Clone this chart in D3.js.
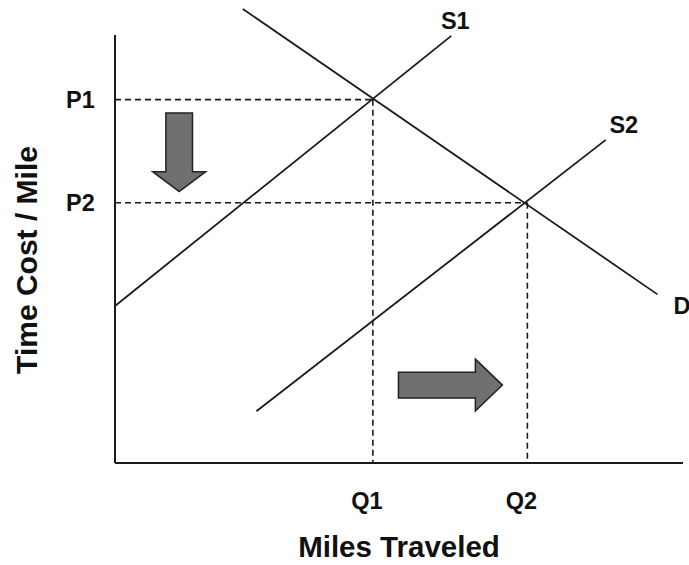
<!DOCTYPE html>
<html>
<head>
<meta charset="utf-8">
<script src="https://cdn.jsdelivr.net/npm/d3@7"></script>
<style>
  html, body { margin: 0; padding: 0; background: #fff; }
  svg { display: block; }
  text { font-family: "Liberation Sans", Arial, sans-serif; font-weight: bold; fill: #111; }
</style>
</head>
<body>
<svg id="chart" width="689" height="565"></svg>
<script>
// Curves (chart units, 0..100 on both axes)
const curveNames = ["S1", "D", "S2"];
const curveX1 = [0, 22.5, 24.9];
const curveY1 = [36.7, 106.1, 12.1];
const curveX2 = [59.2, 95.5, 86.4];
const curveY2 = [99.8, 39.4, 75.5];

// Equilibrium levels
const priceLabels = ["P1", "P2"];
const priceValues = [84.9, 60.8];
const qtyLabels = ["Q1", "Q2"];
const qtyValues = [45.4, 72.6];

// Shift arrows (start and tip in chart units)
const arrowNames = ["down", "right"];
const arrowFromX = [11.3, 49.9];
const arrowFromY = [81.8, 18.2];
const arrowToX = [11.3, 68.2];
const arrowToY = [63.4, 18.2];

const xTitle = "Miles Traveled";
const yTitle = "Time Cost / Mile";

const svg = d3.select("#chart");
const x = d3.scaleLinear().domain([0, 100]).range([115, 683]);
const y = d3.scaleLinear().domain([0, 100]).range([463, 35]);
const ink = "#1a1a1a";
const labelSize = 23.5;

// Axes
svg.append("line").attr("x1", x(0)).attr("x2", x(0)).attr("y1", y(100)).attr("y2", y(0))
  .attr("stroke", ink).attr("stroke-width", 2);
svg.append("line").attr("x1", x(0)).attr("x2", x(100)).attr("y1", y(0)).attr("y2", y(0))
  .attr("stroke", ink).attr("stroke-width", 2);

// Dashed guides
priceValues.forEach((p, i) => {
  svg.append("line").attr("x1", x(0)).attr("x2", x(qtyValues[i])).attr("y1", y(p)).attr("y2", y(p))
    .attr("stroke", ink).attr("stroke-width", 1.6).attr("stroke-dasharray", "6,4");
  svg.append("line").attr("x1", x(qtyValues[i])).attr("x2", x(qtyValues[i])).attr("y1", y(p)).attr("y2", y(0))
    .attr("stroke", ink).attr("stroke-width", 1.6).attr("stroke-dasharray", "6,4");
  svg.append("text").attr("x", 66).attr("y", y(p)).attr("dy", "0.36em")
    .attr("font-size", labelSize).text(priceLabels[i]);
  svg.append("text").attr("x", x(qtyValues[i]) - 6).attr("y", 509)
    .attr("text-anchor", "middle").attr("font-size", labelSize).text(qtyLabels[i]);
});

// Curves
curveNames.forEach((n, i) => {
  svg.append("line").attr("x1", x(curveX1[i])).attr("y1", y(curveY1[i]))
    .attr("x2", x(curveX2[i])).attr("y2", y(curveY2[i]))
    .attr("stroke", ink).attr("stroke-width", 1.8);
});
// Curve labels
svg.append("text").attr("x", x(curveX2[0]) + 4).attr("y", y(curveY2[0]) - 6.5)
  .attr("text-anchor", "middle").attr("font-size", labelSize).text(curveNames[0]);
svg.append("text").attr("x", x(curveX2[2]) + 18).attr("y", y(curveY2[2]) - 6.5)
  .attr("text-anchor", "middle").attr("font-size", labelSize).text(curveNames[2]);
svg.append("text").attr("x", x(curveX2[1]) + 16).attr("y", y(curveY2[1]) + 20)
  .attr("text-anchor", "start").attr("font-size", labelSize).text(curveNames[1]);

// Arrows
function arrowPath(x0, y0, x1, y1, shaftW, headW, headL) {
  const dx = x1 - x0, dy = y1 - y0;
  const len = Math.hypot(dx, dy);
  const ux = dx / len, uy = dy / len;
  const nx = -uy, ny = ux;
  const bx = x1 - ux * headL, by = y1 - uy * headL;
  const pts = [
    [x0 + nx * shaftW / 2, y0 + ny * shaftW / 2],
    [bx + nx * shaftW / 2, by + ny * shaftW / 2],
    [bx + nx * headW / 2, by + ny * headW / 2],
    [x1, y1],
    [bx - nx * headW / 2, by - ny * headW / 2],
    [bx - nx * shaftW / 2, by - ny * shaftW / 2],
    [x0 - nx * shaftW / 2, y0 - ny * shaftW / 2]
  ];
  return d3.line()(pts) + "Z";
}
const arrowDims = [[26.6, 53, 20], [25.6, 52, 27]];
arrowNames.forEach((n, i) => {
  svg.append("path")
    .attr("d", arrowPath(x(arrowFromX[i]), y(arrowFromY[i]), x(arrowToX[i]), y(arrowToY[i]),
      arrowDims[i][0], arrowDims[i][1], arrowDims[i][2]))
    .attr("fill", "#707070").attr("stroke", "#222").attr("stroke-width", 1.5)
    .attr("stroke-linejoin", "miter");
});

// Axis titles
svg.append("text").attr("x", 399).attr("y", 557).attr("text-anchor", "middle")
  .attr("font-size", 29.5).text(xTitle);
svg.append("text").attr("transform", "translate(36.5,260) rotate(-90)")
  .attr("text-anchor", "middle").attr("font-size", 30).text(yTitle);
</script>
</body>
</html>
